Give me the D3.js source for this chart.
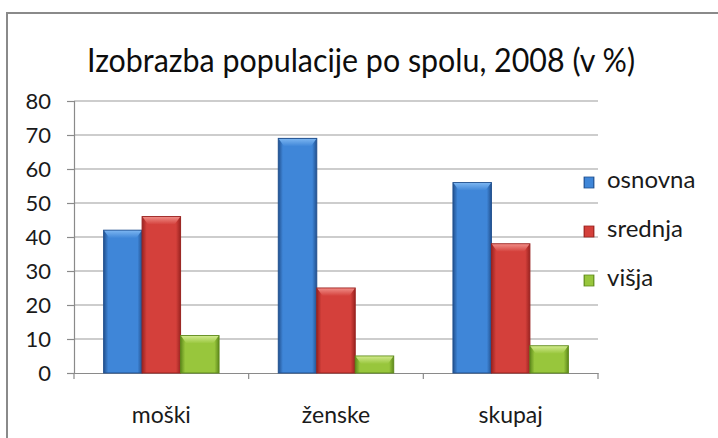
<!DOCTYPE html>
<html>
<head>
<meta charset="utf-8">
<script src="https://cdn.jsdelivr.net/npm/d3@7"></script>
<style>
  html, body { margin: 0; padding: 0; background: #fff; }
  svg text { font-family: Lato, "Open Sans", sans-serif; fill: #1a1a1a; }
</style>
</head>
<body>
<svg id="chart" width="718" height="438"></svg>
<script>
"use strict";

// data
var categories = ["moški", "ženske", "skupaj"];
var seriesNames = ["osnovna", "srednja", "višja"];
var osnovna = [42, 69, 56];
var srednja = [46, 25, 38];
var visja = [11, 5, 8];
var yTicks = [0, 10, 20, 30, 40, 50, 60, 70, 80];
var title = "Izobrazba populacije po spolu, 2008 (v %)";

var values = [osnovna, srednja, visja];

var width = 718
  , height = 438
  , plotLeft = 74
  , plotRight = 598
  , plotTop = 101
  , plotBottom = 373;

// colours: [edge, mid, light top]
var colors = {
  "osnovna": ["#22518f", "#3f86d8", "#7ab4f0"],
  "srednja": ["#9a2320", "#d4403b", "#ee8a84"],
  "višja": ["#5f8a1c", "#98c63c", "#cfe88a"]
};

var svg = d3.select("#chart");

// frame (only top + left edge visible)
svg.append("line").attr("x1", 6).attr("x2", width).attr("y1", 13).attr("y2", 13)
  .attr("stroke", "#8a8a8a").attr("stroke-width", 2);
svg.append("line").attr("x1", 7).attr("x2", 7).attr("y1", 12).attr("y2", height)
  .attr("stroke", "#8a8a8a").attr("stroke-width", 2);

var defs = svg.append("defs");
seriesNames.forEach(function (s, i) {
  var c = colors[s];
  var gr = defs.append("linearGradient").attr("id", "grad" + i)
    .attr("x1", "0").attr("x2", "1").attr("y1", "0").attr("y2", "0");
  gr.append("stop").attr("offset", "0%").attr("stop-color", c[0]);
  gr.append("stop").attr("offset", "12%").attr("stop-color", c[1]);
  gr.append("stop").attr("offset", "50%").attr("stop-color", c[1]);
  gr.append("stop").attr("offset", "88%").attr("stop-color", c[1]);
  gr.append("stop").attr("offset", "100%").attr("stop-color", c[0]);
  var tg = defs.append("linearGradient").attr("id", "top" + i)
    .attr("x1", "0").attr("x2", "0").attr("y1", "0").attr("y2", "1");
  tg.append("stop").attr("offset", "0%").attr("stop-color", c[2]);
  tg.append("stop").attr("offset", "100%").attr("stop-color", c[1]);
});

var x0 = d3.scaleBand().domain(categories).range([plotLeft, plotRight]);
var x1 = d3.scaleBand().domain(seriesNames).range([0, x0.bandwidth()]).paddingOuter(0.77);
var y = d3.scaleLinear().domain([0, 80]).range([plotBottom, plotTop]);

// gridlines
svg.append("g").selectAll("line")
  .data(yTicks.filter(function (t) { return t > 0; }))
  .enter().append("line")
  .attr("x1", plotLeft).attr("x2", plotRight)
  .attr("y1", function (d) { return y(d); })
  .attr("y2", function (d) { return y(d); })
  .attr("stroke", "#9c9c9c").attr("stroke-width", 1.2);

// y axis
var yAxis = svg.append("g")
  .attr("transform", "translate(" + plotLeft + ",0)")
  .call(d3.axisLeft(y).tickValues(yTicks).tickSize(7).tickPadding(16));
yAxis.select(".domain").attr("stroke", "#8a8a8a").attr("stroke-width", 1.2);
yAxis.selectAll(".tick line").attr("stroke", "#8a8a8a").attr("stroke-width", 1.2);
yAxis.selectAll(".tick text")
  .style("font-family", "Lato, sans-serif")
  .style("font-size", "22px")
  .attr("fill", "#1a1a1a");

// x axis
var xAxis = svg.append("g")
  .attr("transform", "translate(0," + plotBottom + ")")
  .call(d3.axisBottom(x0).tickSize(0).tickPadding(34));
xAxis.select(".domain").attr("stroke", "#8a8a8a").attr("stroke-width", 1.2);
xAxis.selectAll(".tick text")
  .style("font-family", "Lato, sans-serif")
  .style("font-size", "23px")
  .attr("fill", "#1a1a1a");
// boundary ticks between categories
svg.append("g").selectAll("line")
  .data(categories.concat(["end"]))
  .enter().append("line")
  .attr("x1", function (d, i) { return i < categories.length ? x0(d) : plotRight; })
  .attr("x2", function (d, i) { return i < categories.length ? x0(d) : plotRight; })
  .attr("y1", plotBottom).attr("y2", plotBottom + 6)
  .attr("stroke", "#8a8a8a").attr("stroke-width", 1.2);

// bars
var groups = svg.append("g").selectAll("g")
  .data(categories)
  .enter().append("g")
  .attr("transform", function (d) { return "translate(" + x0(d) + ",0)"; });

groups.each(function (cat, ci) {
  var g = d3.select(this);
  seriesNames.forEach(function (s, si) {
    var v = values[si][ci]
      , bx = x1(s)
      , bw = x1.bandwidth()
      , by = y(v)
      , bh = plotBottom - by
      , bev = Math.min(8, bh / 2)
      , ins = 6;
    g.append("rect")
      .attr("x", bx).attr("y", by)
      .attr("width", bw).attr("height", bh)
      .attr("fill", "url(#grad" + si + ")")
      .attr("stroke", colors[s][0]).attr("stroke-width", 1);
    g.append("polygon")
      .attr("points", [
        [bx + 0.5, by + 0.5], [bx + bw - 0.5, by + 0.5],
        [bx + bw - ins, by + bev], [bx + ins, by + bev]
      ].map(function (p) { return p.join(","); }).join(" "))
      .attr("fill", "url(#top" + si + ")");
  });
});

// title, squeezed to the reference width
svg.append("text")
  .attr("x", 87).attr("y", 72)
  .attr("textLength", 548)
  .attr("lengthAdjust", "spacingAndGlyphs")
  .style("font-size", "32px")
  .style("fill", "#0d0d0d")
  .text(title);

// legend
var legend = svg.append("g").selectAll("g")
  .data(seriesNames)
  .enter().append("g")
  .attr("transform", function (d, i) { return "translate(584," + (188 + i * 49) + ")"; });
legend.append("rect")
  .attr("x", 0).attr("y", -11).attr("width", 10).attr("height", 11)
  .attr("fill", function (d, i) { return "url(#grad" + i + ")"; })
  .attr("stroke", function (d) { return colors[d][0]; }).attr("stroke-width", 0.8);
legend.append("text")
  .attr("x", 23).attr("y", 0)
  .style("font-size", "24px")
  .text(function (d) { return d; });
</script>
</body>
</html>
